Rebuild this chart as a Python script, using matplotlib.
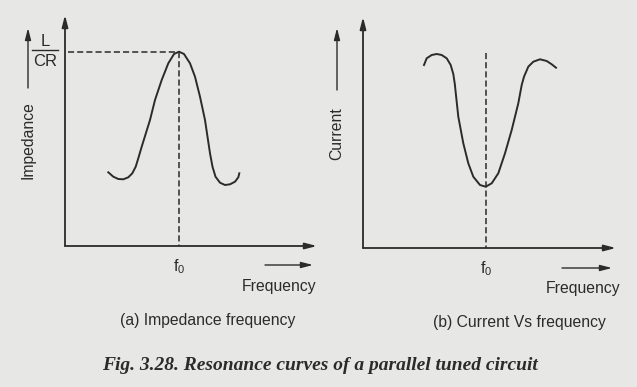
import matplotlib
matplotlib.use("Agg")
import matplotlib.pyplot as plt

plt.rcParams['font.family'] = ['Liberation Sans', 'DejaVu Sans']
plt.rcParams['mathtext.fontset'] = 'custom'
plt.rcParams['mathtext.rm'] = 'Liberation Sans'
plt.rcParams['mathtext.it'] = 'Liberation Sans'

# (a) impedance vs frequency (arbitrary units)
freq_a = [43.3, 48.3, 53.3, 58.3, 63.3, 67.3, 70.7, 73.3, 76.7, 85, 90, 96.7,
          103.3, 109, 114, 119, 125, 130, 135, 140, 143, 145, 147.5, 150.5,
          155, 160, 165, 170, 173.3, 174.3]
imp_a = [73.7, 69.3, 67, 66.7, 68.7, 72.7, 79.3, 87.7, 99.3, 126, 146, 166,
         182.7, 192, 194.3, 192, 182.7, 169.3, 149.3, 126, 106, 92.7, 79.3, 69.3,
         63.3, 61, 61.7, 64.3, 68.7, 72.7]
f0_a = 114
peak_a = 194.3

# (b) current vs frequency
freq_b = [61, 63.7, 68.7, 73.7, 78.7, 83.7, 87.7, 90.3, 91.8, 93.4, 95.3, 100.3,
          105.3, 110.3, 117, 122.7, 128.7, 135.3, 142, 148.7, 155.3, 158.7, 161,
          165.3, 170.3, 177, 183.7, 188.7, 193]
cur_b = [183, 189.7, 193, 194, 193, 189.7, 183, 174, 164, 149, 131.3, 104.7,
         84.7, 71.3, 63, 61.3, 64.7, 74.7, 94.7, 118, 144.7, 163, 171.3, 181.3,
         186.3, 188.7, 187, 183.7, 180.3]
f0_b = 123
top_b = 195

ink = '#2b2b2b'
bg = '#e7e7e5'
W, H = 637, 387

fig = plt.figure(figsize=(6.37, 3.87), dpi=100, facecolor=bg)


def panel(x0, y0, w, h):
    ax = fig.add_axes([x0 / W, (H - y0) / H, w / W, h / H])
    ax.set_xlim(0, w)
    ax.set_ylim(0, h)
    ax.axis('off')
    ax.patch.set_alpha(0)
    return ax


def arrow(ax, x1, y1, x2, y2, lw=1.3):
    ax.annotate('', xy=(x2, y2), xytext=(x1, y1), annotation_clip=False,
                arrowprops=dict(arrowstyle='-|>,head_length=0.7,head_width=0.18',
                                color=ink, lw=lw, shrinkA=0, shrinkB=0))


# ---- panel (a)
ax1 = panel(65, 246, 255, 234)
arrow(ax1, 0, 0, 252, 0)
arrow(ax1, 0, 0, 0, 231)
ax1.plot(freq_a, imp_a, color=ink, lw=1.4, solid_joinstyle='round')
ax1.plot([3, f0_a], [peak_a, peak_a], color=ink, lw=1.1, dashes=(4, 2))
ax1.plot([f0_a, f0_a], [peak_a, 0], color=ink, lw=1.1, dashes=(4, 2))
ax1.text(f0_a, -21, '$f_0$', ha='center', va='center', fontsize=11.5, color=ink)
arrow(ax1, 200, -19, 248, -19, lw=1.0)
ax1.text(251, -40, 'Frequency', ha='right', va='center', fontsize=11.3, color=ink)
ax1.text(143, -74, '(a) Impedance frequency', ha='center', va='center',
         fontsize=11.3, color=ink)
arrow(ax1, -37, 158, -37, 218, lw=1.0)
ax1.text(-37, 106, 'Impedance', rotation=90, ha='center', va='center',
         fontsize=11.3, color=ink)
ax1.plot([-33, -7], [196, 196], color=ink, lw=1.0, clip_on=False)
ax1.text(-20, 205, 'L', ha='center', va='center', fontsize=12, color=ink)
ax1.text(-20, 184, 'CR', ha='center', va='center', fontsize=12, color=ink)

# ---- panel (b)
ax2 = panel(363, 248, 260, 234)
arrow(ax2, 0, 0, 253, 0)
arrow(ax2, 0, 0, 0, 231)
ax2.plot(freq_b, cur_b, color=ink, lw=1.4, solid_joinstyle='round')
ax2.plot([f0_b, f0_b], [top_b, 0], color=ink, lw=1.1, dashes=(4, 2))
ax2.text(f0_b, -21, '$f_0$', ha='center', va='center', fontsize=11.5, color=ink)
arrow(ax2, 199, -20, 249, -20, lw=1.0)
ax2.text(257, -40, 'Frequency', ha='right', va='center', fontsize=11.3, color=ink)
ax2.text(156, -74, '(b) Current Vs frequency', ha='center', va='center',
         fontsize=11.3, color=ink)
arrow(ax2, -26, 158, -26, 220, lw=1.0)
ax2.text(-26, 114, 'Current', rotation=90, ha='center', va='center',
         fontsize=11.3, color=ink)

fig.text(320 / W, 1 - 365 / H, 'Fig. 3.28. Resonance curves of a parallel tuned circuit',
         ha='center', va='center', fontsize=14, fontweight='bold', fontstyle='italic',
         family='Liberation Serif', color=ink)

fig.savefig('out.png', dpi=100, facecolor=bg)
